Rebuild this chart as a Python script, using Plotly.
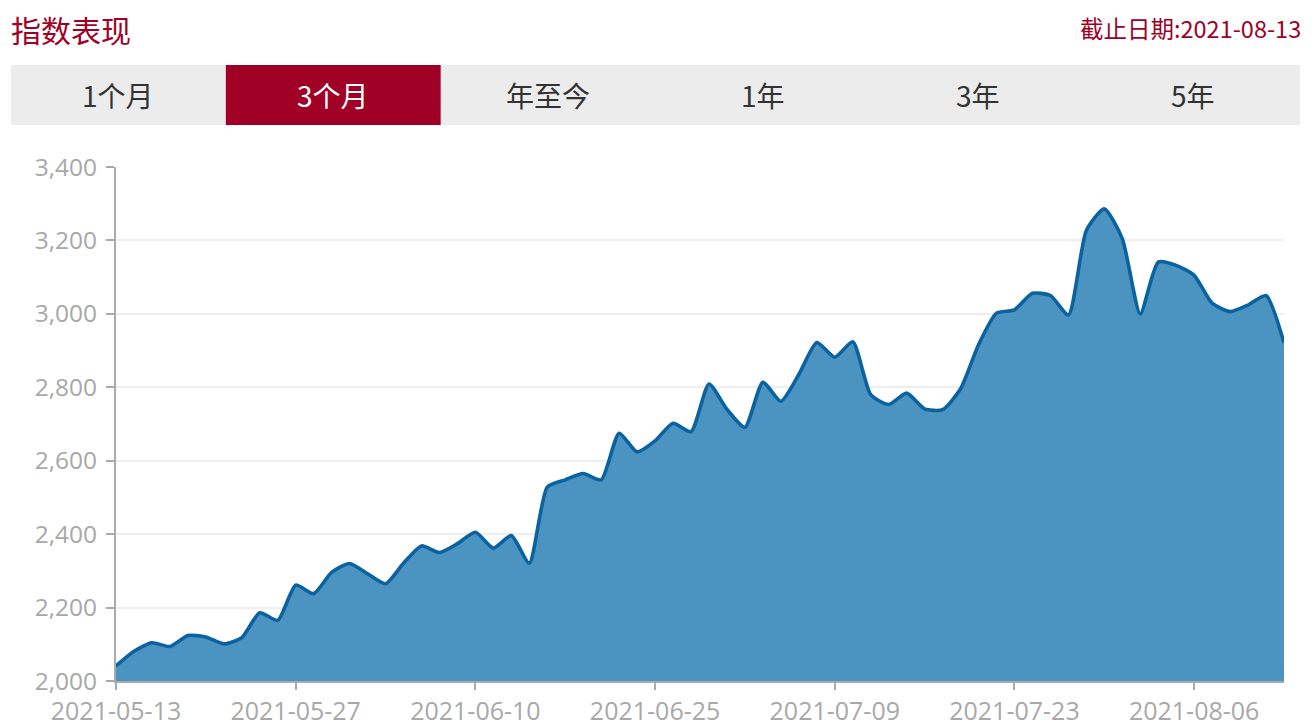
import plotly.graph_objects as go

# ---------------- data ----------------
dates = [
    "2021-05-13", "2021-05-14", "2021-05-17", "2021-05-18", "2021-05-19", "2021-05-20",
    "2021-05-21", "2021-05-24", "2021-05-25", "2021-05-26", "2021-05-27", "2021-05-28",
    "2021-05-31", "2021-06-01", "2021-06-02", "2021-06-03", "2021-06-04", "2021-06-07",
    "2021-06-08", "2021-06-09", "2021-06-10", "2021-06-11", "2021-06-15", "2021-06-16",
    "2021-06-17", "2021-06-18", "2021-06-21", "2021-06-22", "2021-06-23", "2021-06-24",
    "2021-06-25", "2021-06-28", "2021-06-29", "2021-06-30", "2021-07-01", "2021-07-02",
    "2021-07-05", "2021-07-06", "2021-07-07", "2021-07-08", "2021-07-09", "2021-07-12",
    "2021-07-13", "2021-07-14", "2021-07-15", "2021-07-16", "2021-07-19", "2021-07-20",
    "2021-07-21", "2021-07-22", "2021-07-23", "2021-07-26", "2021-07-27", "2021-07-28",
    "2021-07-29", "2021-07-30", "2021-08-02", "2021-08-03", "2021-08-04", "2021-08-05",
    "2021-08-06", "2021-08-09", "2021-08-10", "2021-08-11", "2021-08-12", "2021-08-13",
]

index_values = [
    2041, 2081, 2104, 2094, 2124, 2120, 2101, 2118, 2186, 2165,
    2261, 2238, 2296, 2320, 2292, 2265, 2321, 2368, 2350, 2374,
    2405, 2362, 2396, 2321, 2528, 2548, 2565, 2548, 2675, 2624,
    2654, 2702, 2679, 2809, 2740, 2691, 2814, 2762, 2835, 2922,
    2882, 2924, 2780, 2753, 2784, 2741, 2739, 2796, 2916, 3002,
    3011, 3056, 3050, 2997, 3227, 3286, 3205, 3000, 3141, 3132,
    3105, 3029, 3006, 3024, 3050, 2921,
]

x_tick_labels = dates[0::10]
y_tick_values = [2000, 2200, 2400, 2600, 2800, 3000, 3200, 3400]

title_text = "指数表现"
date_text = "截止日期:2021-08-13"
tab_labels = ["1个月", "3个月", "年至今", "1年", "3年", "5年"]
selected_tab = 1

# ---------------- layout helpers ----------------
OFF = 8  # page body margin
W, H = 1314 - OFF, 726 - OFF
# plot area in page pixels
PL, PR, PT, PB = 116, 1284, 167, 681


def px(x):
    return (x - PL) / (PR - PL)


def py(y):
    return (PB - y) / (PB - PT)


RED = "#a00026"
CJK = "Noto Sans CJK SC, Microsoft YaHei, sans-serif"
NUM = "Open Sans, Noto Sans, sans-serif"

fig = go.Figure()
fig.add_trace(go.Scatter(
    x=dates, y=index_values,
    mode="lines",
    line=dict(color="#0b62a0", width=3.6, shape="spline", smoothing=0.6),
    fill="tozeroy",
    fillcolor="#4b93c0",
    hoverinfo="x+y",
    showlegend=False,
))

shapes = []
annotations = []

# tab bar
tab_x0, tab_x1 = 11, 1300
tab_y0, tab_y1 = 65, 125
shapes.append(dict(type="rect", xref="paper", yref="paper",
                   x0=px(tab_x0), x1=px(tab_x1), y0=py(tab_y1), y1=py(tab_y0),
                   fillcolor="#ececec", line=dict(width=0), layer="below"))
tw = (tab_x1 - tab_x0) / len(tab_labels)
for k, lab in enumerate(tab_labels):
    cx = tab_x0 + tw * (k + 0.5)
    if k == selected_tab:
        shapes.append(dict(type="rect", xref="paper", yref="paper",
                           x0=px(tab_x0 + tw * k), x1=px(tab_x0 + tw * (k + 1)),
                           y0=py(tab_y1), y1=py(tab_y0),
                           fillcolor=RED, line=dict(width=0), layer="below"))
    annotations.append(dict(
        text=lab, xref="paper", yref="paper", x=px(cx), y=py(95),
        xanchor="center", yanchor="middle", showarrow=False,
        font=dict(family=CJK, size=28, color="#ffffff" if k == selected_tab else "#333333"),
    ))

annotations.append(dict(
    text=title_text, xref="paper", yref="paper", x=px(10), y=py(29),
    xanchor="left", yanchor="middle", showarrow=False, borderpad=0,
    font=dict(family=CJK, size=30, color=RED),
))
annotations.append(dict(
    text=date_text, xref="paper", yref="paper", x=px(1302), y=py(28),
    xanchor="right", yanchor="middle", showarrow=False, borderpad=0,
    font=dict(family=CJK, size=23.5, color=RED),
))

fig.update_layout(
    width=W, height=H,
    margin=dict(l=PL - OFF, r=W - (PR - OFF), t=PT - OFF, b=H - (PB - OFF)),
    paper_bgcolor="white", plot_bgcolor="white",
    shapes=shapes, annotations=annotations,
    showlegend=False,
    xaxis=dict(
        type="category",
        range=[0, len(dates) - 1],
        tickmode="array", tickvals=x_tick_labels, ticktext=x_tick_labels,
        showgrid=False, zeroline=False,
        showline=True, linecolor="#aaaaaa", linewidth=2,
        ticks="outside", ticklen=7, tickcolor="#aaaaaa", tickwidth=1.5,
        tickfont=dict(family=NUM, size=25, color="#a8a8a8"),
        automargin=False,
        fixedrange=True,
    ),
    yaxis=dict(
        range=[2000, 3400],
        tickmode="array", tickvals=y_tick_values,
        tickformat=",",
        showgrid=True, gridcolor="#eeeeee", gridwidth=1.5,
        zeroline=False,
        showline=True, linecolor="#aaaaaa", linewidth=2,
        ticks="outside", ticklen=8, tickcolor="#aaaaaa", tickwidth=1.5,
        ticklabelstandoff=4,
        tickfont=dict(family=NUM, size=24.5, color="#a8a8a8"),
        automargin=False,
        fixedrange=True,
    ),
)

fig.write_html("out.html")
